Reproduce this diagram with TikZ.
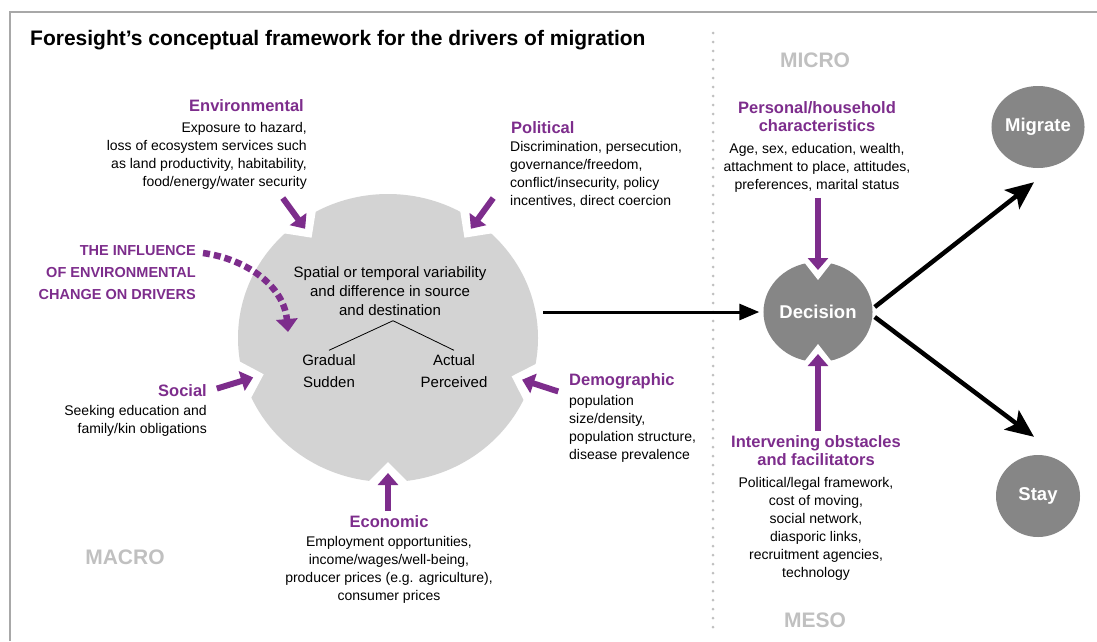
\documentclass[tikz,border=0pt]{standalone}
\usepackage{fontspec}
\setmainfont{Liberation Sans}
\usetikzlibrary{arrows.meta,calc,shapes.geometric}
\definecolor{drvpurple}{RGB}{125,45,140}
\definecolor{blobgray}{RGB}{211,211,211}
\definecolor{nodegray}{RGB}{134,134,134}
\definecolor{levelgray}{RGB}{192,192,192}
\definecolor{framegray}{RGB}{168,168,168}

\begin{document}
\begin{tikzpicture}[x=1pt,y=1pt,
  body/.style={inner sep=0pt,font=\fontsize{14}{18.2}\selectfont},
  head/.style={inner sep=0pt,text=drvpurple,font=\fontsize{16.5}{18}\selectfont\bfseries},
  level/.style={inner sep=0pt,text=levelgray,font=\fontsize{21}{24}\selectfont\bfseries},
  outcome/.style={ellipse,fill=nodegray,text=white,inner sep=0pt,font=\fontsize{18.5}{20}\selectfont\bfseries},
  push/.style={drvpurple,line width=6pt,-{Triangle[length=12pt,width=20pt]}},
  bigarrow/.style={line width=4.5pt,-{Stealth[length=28pt,width=24pt,inset=6pt]}}]
\useasboundingbox (0,0) rectangle (1097,-641);
%\draw[help lines,step=50] (0,-641) grid (1097,0);
\draw[framegray,line width=2pt] (10,-641) -- (10,-12) -- (1097,-12);
\draw[levelgray,line width=3pt,line cap=round,dash pattern=on 0pt off 9pt] (713,-33) -- (713,-630);

\node (title) [anchor=west,inner sep=0pt,font=\fontsize{21}{24}\selectfont\bfseries] at (30,-40) {Foresight’s conceptual framework for the drivers of migration};

\node (micro) [level] at (815,-60) {MICRO};
\node (macro) [level] at (125,-557) {MACRO};
\node (meso) [level] at (815,-620) {MESO};

% macro drivers round the blob
\node (blob) [ellipse,fill=blobgray,minimum width=300pt,minimum height=288pt,inner sep=0pt] at (388,-338) {};
\foreach \a/\nm in {126/env,54/pol,197/soc,-18/dem,-90/eco}{
  \fill[white] ($(blob)+(\a:130 and 124)$) -- +(\a+45:42) -- +(\a:60) -- +(\a-45:42) -- cycle;
  \coordinate (\nm tip) at ($(blob)+(\a:130 and 124)+(\a:11)$);
  \coordinate (\nm tail) at ($(\nm tip)+(\a:38)$);
  \draw[push] (\nm tail) -- (\nm tip);
}

\node (var) [inner sep=0pt,align=center,font=\fontsize{15}{19}\selectfont] at (390,-291) {Spatial or temporal variability\\and difference in source\\and destination};
\node (grad) [inner sep=0pt,align=center,font=\fontsize{15}{22}\selectfont] at (329,-371) {Gradual\\Sudden};
\node (act) [inner sep=0pt,align=center,font=\fontsize{15}{22}\selectfont] at (454,-371) {Actual\\Perceived};
\draw[line width=0.8pt] (grad.north) ++(0,4) -- ($(var.south)+(3,-5)$) -- ($(act.north)+(0,4)$);

\node (envh) [head,anchor=east] at (304,-106) {Environmental};
\node (envb) [body,align=right,anchor=north east] at (307,-122) {Exposure to hazard,\\loss of ecosystem services such\\as land productivity, habitability,\\food/energy/water security};

\node (polh) [head,anchor=west] at (511,-128) {Political};
\node (polb) [body,align=left,anchor=north west] at (510,-141) {Discrimination, persecution,\\governance/freedom,\\conflict/insecurity, policy\\incentives, direct coercion};

\node (infl) [inner sep=0pt,text=drvpurple,align=right,anchor=north east,font=\fontsize{14.5}{22}\selectfont\bfseries] at (196,-245) {THE INFLUENCE\\OF ENVIRONMENTAL\\CHANGE ON DRIVERS};
\coordinate (inflend) at (288,-332);
\draw[drvpurple,line width=6.5pt,dash pattern=on 7pt off 4pt,-{Triangle[length=13pt,width=21pt]}] ($(infl.north east)+(7,-8)$) to[out=-8,in=95] (inflend);

\node (soch) [head,anchor=east] at (207,-391) {Social};
\node (socb) [body,align=right,anchor=north east] at (207,-405) {Seeking education and\\family/kin obligations};

\node (demh) [head,anchor=west] at (569,-381) {Demographic};
\node (demb) [body,align=left,anchor=north west] at (569,-395) {population\\size/density,\\population structure,\\disease prevalence};

\node (ecoh) [head] at (389,-522) {Economic};
\node (ecob) [body,align=center,anchor=north] at (389,-536) {Employment opportunities,\\income/wages/well-being,\\producer prices (e.g. agriculture),\\consumer prices};

% decision and outcomes
\node (dec) [outcome,minimum width=104pt,minimum height=100pt] at (818,-312) {Decision};
\foreach \a/\nm in {90/dectop,-90/decbot}{
  \fill[white] ($(dec)+(\a:32)$) -- +(\a+38:30) -- +(\a:40) -- +(\a-38:30) -- cycle;
  \coordinate (\nm) at ($(dec)+(\a:42)$);
}
\draw[line width=3pt,shorten >=4pt,-{Triangle[length=20pt,width=16pt]}] ($(blob.east |- dec.west)+(5,0)$) -- (dec.west);

\node (persh) [head,align=center,anchor=north] at (817,-101) {Personal/household\\characteristics};
\node (persb) [body,align=center,anchor=north] at (817,-143) {Age, sex, education, wealth,\\attachment to place, attitudes,\\preferences, marital status};
\draw[push,shorten <=5pt] (dectop |- persb.south) -- (dectop);

\node (intvh) [head,align=center,anchor=north] at (816,-435) {Intervening obstacles\\and facilitators};
\node (intvb) [body,align=center,anchor=north,font=\fontsize{14}{18}\selectfont] at (816,-477) {Political/legal framework,\\cost of moving,\\social network,\\diasporic links,\\recruitment agencies,\\technology};
\draw[push,shorten <=4pt] (decbot |- intvh.north) -- (decbot);

\node (mig) [outcome,minimum width=84pt,minimum height=82pt] at (1038,-127) {Migrate};
\node (stay) [outcome,minimum width=84pt,minimum height=82pt] at (1038,-496) {Stay};
\coordinate (migtip) at ($(mig.south)+(-4,-14)$);
\coordinate (staytip) at ($(stay.north)+(-4,18)$);
\draw[bigarrow] ($(dec.east)+(2,5)$) -- (migtip);
\draw[bigarrow] ($(dec.east)+(2,-5)$) -- (staytip);
\end{tikzpicture}
\end{document}
